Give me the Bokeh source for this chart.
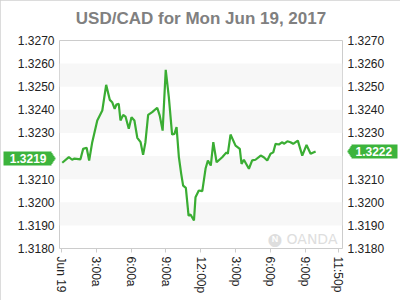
from bokeh.plotting import figure
from bokeh.models import (LinearAxis, FixedTicker, NumeralTickFormatter, Range1d, Label,
                          CustomJSTickFormatter)
from bokeh.embed import file_html
from bokeh.resources import INLINE

title_text = "USD/CAD for Mon Jun 19, 2017"

# minutes after midnight, Jun 19
minutes = [4, 38, 55, 67, 98, 112, 130, 143, 159, 185, 211, 231, 250, 262, 275, 284,
           296, 305, 319, 331, 348, 362, 377, 392, 409, 422, 434, 448, 469, 495, 508,
           523, 539, 555, 572, 584, 595, 607, 619, 629, 643, 657, 667, 685, 693, 710,
           728, 745, 757, 772, 785, 802, 831, 853, 860, 874, 900, 922, 931, 943, 969,
           986, 1003, 1030, 1046, 1064, 1081, 1095, 1107, 1124, 1142, 1150, 1168, 1184,
           1198, 1222, 1245, 1267, 1288, 1314]
prices = [1.32171, 1.32195, 1.32184, 1.32189, 1.32186, 1.32231, 1.32236, 1.32181,
          1.32260, 1.32354, 1.32397, 1.32508, 1.32443, 1.32433, 1.32404, 1.32423,
          1.32426, 1.32354, 1.32378, 1.32371, 1.32318, 1.32368, 1.32354, 1.32279,
          1.32260, 1.32205, 1.32260, 1.32378, 1.32390, 1.32409, 1.32375, 1.32310,
          1.32573, 1.32455, 1.32293, 1.32296, 1.32325, 1.32195, 1.32123, 1.32072,
          1.32062, 1.31942, 1.31947, 1.31921, 1.32022, 1.32051, 1.32048, 1.32146,
          1.32181, 1.32159, 1.32260, 1.32173, 1.32195, 1.32216, 1.32210, 1.32293,
          1.32245, 1.32231, 1.32166, 1.32184, 1.32145, 1.32181, 1.32184, 1.32202,
          1.32195, 1.32181, 1.32210, 1.32216, 1.32253, 1.32250, 1.32260, 1.32253,
          1.32264, 1.32260, 1.32253, 1.32267, 1.32202, 1.32248, 1.32210, 1.32220]

x_ticks = [0, 180, 360, 540, 720, 900, 1080, 1260, 1430]
x_labels = ["Jun 19", "3:00a", "6:00a", "9:00a", "12:00p", "3:00p", "6:00p", "9:00p", "11:50p"]
y_ticks = [1.3180, 1.3190, 1.3200, 1.3210, 1.3220, 1.3230, 1.3240, 1.3250, 1.3260, 1.3270]
open_price = 1.3219
last_price = 1.3222

FONT = "Liberation Sans"
GREEN = "#3aad33"
TAG = "#3cb43c"

X_LO, X_HI = -10.3, 1453
Y_LO, Y_HI = 1.3180, 1.3270
BT = 40
FRAME_H = 300 - BT - 52

p = figure(width=400, height=300, output_backend="svg", toolbar_location=None,
           x_range=Range1d(X_LO, X_HI), y_range=Range1d(Y_LO, Y_HI),
           min_border_left=59, min_border_right=58, min_border_top=BT,
           min_border_bottom=52, background_fill_color="white",
           border_fill_color="white")
p.title = None
p.styles = {"outline": "1px solid #d0d0d0", "outline-offset": "-1px"}

p.outline_line_color = "#cccccc"
p.outline_line_width = 1

# title, drawn in the top panel (so it is not clipped to the frame)
title_y = Y_HI + (BT - 17.5) / FRAME_H * (Y_HI - Y_LO)
p.add_layout(Label(x=(X_LO + X_HI) / 2, y=title_y, text=title_text,
                   text_font=FONT, text_font_size="17px", text_font_style="bold",
                   text_color="#808080", text_align="center",
                   text_baseline="alphabetic"), "above")

# x axis
xa = p.xaxis[0]
xa.ticker = FixedTicker(ticks=x_ticks)
xa.major_label_overrides = {t: l for t, l in zip(x_ticks, x_labels)}
xa.major_label_orientation = "vertical"
xa.major_label_text_font = FONT
xa.major_label_text_font_size = "12px"
xa.major_label_text_color = "#222222"
xa.axis_line_color = None
xa.major_tick_line_color = "#cccccc"
xa.major_tick_out = 4
xa.major_tick_in = 0
xa.minor_tick_line_color = None
xa.major_label_standoff = 4

# y axes: labels hidden where a price tag sits on top of them
axis_ticks = [t for t in y_ticks
              if min(abs(t - open_price), abs(t - last_price)) > 0.0004]
ya = p.yaxis[0]
ya.ticker = FixedTicker(ticks=axis_ticks)
ya.formatter = NumeralTickFormatter(format="0.0000")
yr = LinearAxis(ticker=FixedTicker(ticks=axis_ticks),
                formatter=NumeralTickFormatter(format="0.0000"))
p.add_layout(yr, "right")
for ax in (ya, yr):
    ax.major_label_text_font = FONT
    ax.major_label_text_font_size = "12px"
    ax.major_label_text_color = "#222222"
    ax.axis_line_color = None
    ax.major_tick_line_color = None
    ax.major_tick_out = 0
    ax.major_tick_in = 0
    ax.minor_tick_line_color = None
    ax.major_label_standoff = 5

p.xgrid.grid_line_color = None
p.ygrid.ticker = FixedTicker(ticks=y_ticks)
p.ygrid.grid_line_color = None
p.ygrid.band_fill_color = "#f7f7f7"
p.ygrid.band_fill_alpha = 1.0

# watermark (screen x is measured from the frame's left edge)
p.add_layout(Label(x=252.5, y=1.3184, x_units="screen", y_units="data",
                   text="OANDA", text_font="DejaVu Sans", text_font_size="14px",
                   text_color="#dedede", text_align="center", text_baseline="middle"))
p.add_layout(Label(x=215.5, y=1.3184, x_units="screen", y_units="data",
                   text="\u25cf", text_font="DejaVu Sans", text_font_size="17px",
                   text_color="#dedede", text_align="center", text_baseline="middle"))
p.add_layout(Label(x=215.5, y=1.3184, x_units="screen", y_units="data",
                   text="N", text_font=FONT, text_font_size="9px", text_font_style="bold",
                   text_color="white", text_align="center", text_baseline="middle"))

p.line(minutes, prices, line_color=GREEN, line_width=2.2)


# price tags, built from extra axes with a single thick tick each
def tag_axis(price, tick_in, tick_out, width, label=False, standoff=0):
    ax = LinearAxis(ticker=FixedTicker(ticks=[price]))
    ax.axis_line_color = None
    ax.minor_tick_line_color = None
    ax.major_tick_line_color = TAG
    ax.major_tick_line_width = width
    ax.major_tick_line_cap = "butt"
    ax.major_tick_in = tick_in
    ax.major_tick_out = tick_out
    ax.major_label_standoff = standoff
    if label:
        ax.formatter = NumeralTickFormatter(format="0.0000")
        ax.major_label_text_font = FONT
        ax.major_label_text_font_size = "12px"
        ax.major_label_text_font_style = "bold"
        ax.major_label_text_color = "white"
    else:
        ax.formatter = CustomJSTickFormatter(code="return ''")
    return ax


# (tick_in, width) steps that shape the pointed tip
tip_steps = [(38, 11), (39, 8), (40, 5), (41, 2)]
for side, price, body_in, body_out, standoff in (("left", open_price, 37, 11, -43),
                                                 ("right", last_price, 36, 10, -42)):
    for t_in, w in tip_steps:
        p.add_layout(tag_axis(price, t_in - (1 if side == "right" else 0), 0, w), side)
    p.add_layout(tag_axis(price, body_in, body_out, 14, label=True, standoff=standoff), side)

open("out.html", "w").write(file_html(p, INLINE))
